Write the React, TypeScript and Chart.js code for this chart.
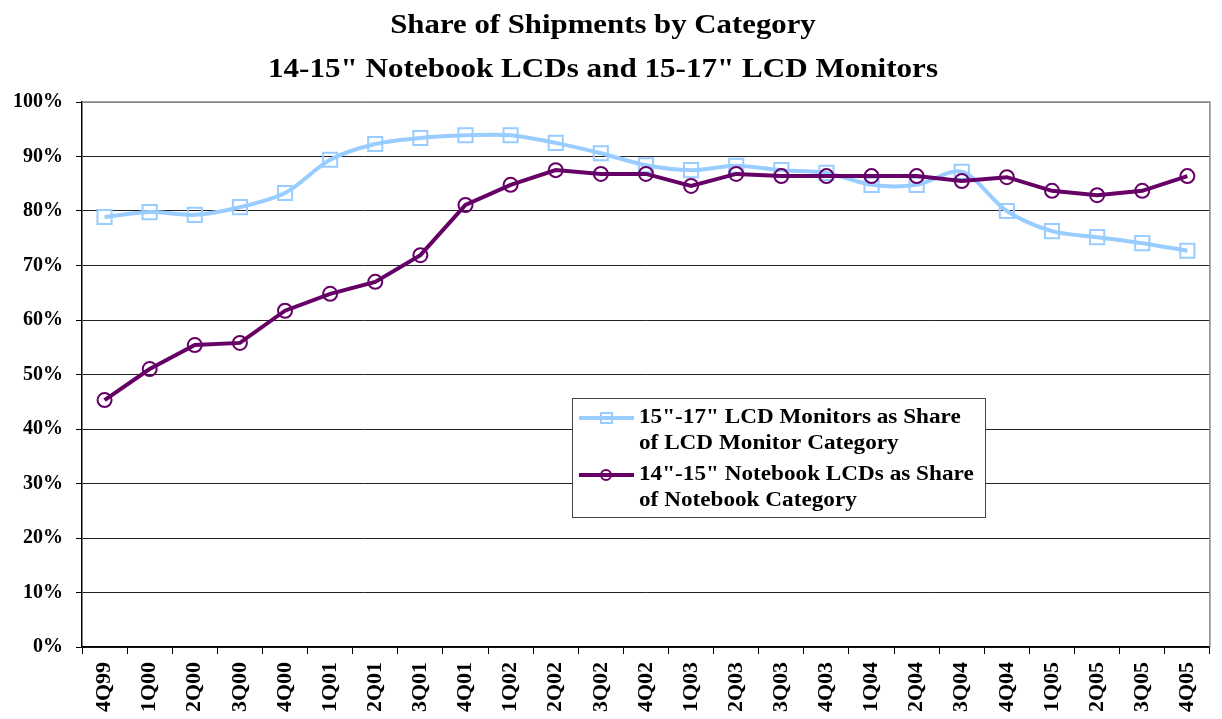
import React, { useEffect, useRef } from "react";
import { Chart, registerables } from "chart.js";

Chart.register(...registerables);

const quarters = [
  "4Q99", "1Q00", "2Q00", "3Q00", "4Q00", "1Q01", "2Q01", "3Q01", "4Q01",
  "1Q02", "2Q02", "3Q02", "4Q02", "1Q03", "2Q03", "3Q03", "4Q03",
  "1Q04", "2Q04", "3Q04", "4Q04", "1Q05", "2Q05", "3Q05", "4Q05",
];

const monitorShare = [
  78.9, 79.8, 79.3, 80.7, 83.3, 89.4, 92.3, 93.4, 93.9,
  93.9, 92.5, 90.6, 88.4, 87.5, 88.3, 87.5, 87.0,
  84.8, 84.8, 87.2, 80.0, 76.3, 75.2, 74.1, 72.7,
];

const notebookShare = [
  45.3, 51.0, 55.4, 55.8, 61.7, 64.8, 67.0, 71.9, 81.1,
  84.8, 87.5, 86.8, 86.8, 84.6, 86.8, 86.4, 86.4,
  86.4, 86.4, 85.5, 86.2, 83.7, 82.9, 83.7, 86.4,
];

const titleLines = ["Share of Shipments by Category", "14-15\" Notebook LCDs and 15-17\" LCD Monitors"];
const legendLabels = [
  ["15\"-17\" LCD Monitors as Share", "of LCD Monitor Category"],
  ["14\"-15\" Notebook LCDs as Share", "of Notebook Category"],
];

const SERIF = "'Liberation Serif', 'Times New Roman', serif";
const BLUE = "#99CCFF";
const PURPLE = "#660066";

function stretchedText(ctx: any, text: string, x: number, y: number, sx: number, align: string) {
  ctx.save();
  ctx.translate(x, y);
  ctx.scale(sx, 1);
  ctx.textAlign = align;
  ctx.fillText(text, 0, 0);
  ctx.restore();
}

export default function App() {
  const ref = useRef<HTMLCanvasElement | null>(null);

  useEffect(() => {
    if (!ref.current) return;

    const overlay = {
      id: "overlay",
      afterDraw(chart: any) {
        const ctx = chart.ctx;
        const area = chart.chartArea;
        ctx.save();
        // right border and top border
        ctx.strokeStyle = "#888888";
        ctx.lineWidth = 1.5;
        ctx.beginPath();
        ctx.moveTo(area.left, area.top);
        ctx.lineTo(area.right, area.top);
        ctx.lineTo(area.right, area.bottom);
        ctx.stroke();

        // title
        ctx.fillStyle = "#000";
        ctx.textBaseline = "alphabetic";
        ctx.font = `bold 28px ${SERIF}`;
        stretchedText(ctx, titleLines[0], 603, 33, 1.1, "center");
        stretchedText(ctx, titleLines[1], 603, 77, 1.11, "center");

        // legend
        const lx = 572, ly = 398, lw = 413, lh = 119;
        ctx.fillStyle = "#fff";
        ctx.fillRect(lx, ly, lw, lh);
        ctx.strokeStyle = "#444";
        ctx.lineWidth = 1;
        ctx.strokeRect(lx + 0.5, ly + 0.5, lw, lh);
        const items = [
          { color: BLUE, style: "rect", lines: legendLabels[0], y: 418 },
          { color: PURPLE, style: "circle", lines: legendLabels[1], y: 475 },
        ];
        ctx.font = `bold 20px ${SERIF}`;
        ctx.textBaseline = "middle";
        for (const it of items) {
          ctx.strokeStyle = it.color;
          ctx.lineWidth = 4;
          ctx.beginPath();
          ctx.moveTo(579, it.y);
          ctx.lineTo(634, it.y);
          ctx.stroke();
          ctx.lineWidth = 2;
          if (it.style === "rect") {
            ctx.strokeRect(601, it.y - 5, 11, 10);
          } else {
            ctx.beginPath();
            ctx.arc(606, it.y, 5, 0, Math.PI * 2);
            ctx.stroke();
          }
          ctx.fillStyle = "#000";
          stretchedText(ctx, it.lines[0], 639, it.y, 1.16, "left");
          stretchedText(ctx, it.lines[1], 639, it.y + 26, 1.16, "left");
        }
        ctx.restore();
      },
    };

    const chart = new Chart(ref.current, {
      type: "line",
      data: {
        labels: quarters,
        datasets: [
          {
            label: legendLabels[0].join(" "),
            data: monitorShare,
            borderColor: BLUE,
            borderWidth: 4,
            tension: 0.3,
            pointStyle: "rect",
            pointRadius: 10,
            pointBorderWidth: 2,
            pointBorderColor: BLUE,
            pointBackgroundColor: "rgba(255,255,255,0)",
            order: 1,
          },
          {
            label: legendLabels[1].join(" "),
            data: notebookShare,
            borderColor: PURPLE,
            borderWidth: 4,
            tension: 0,
            pointStyle: "circle",
            pointRadius: 7,
            pointBorderWidth: 2,
            pointBorderColor: PURPLE,
            pointBackgroundColor: "rgba(255,255,255,0)",
            order: 0,
          },
        ],
      },
      options: {
        responsive: false,
        animation: false,
        devicePixelRatio: 1,
        layout: { padding: { top: 102, right: 9, left: 0, bottom: 0 } },
        plugins: {
          legend: { display: false },
          title: { display: false },
          tooltip: { enabled: false },
        },
        scales: {
          x: {
            offset: true,
            grid: {
              offset: true,
              drawOnChartArea: false,
              drawTicks: true,
              tickLength: 7,
              color: "#000",
            },
            border: { color: "#000", width: 1.5 },
            ticks: {
              minRotation: 90,
              maxRotation: 90,
              autoSkip: false,
              padding: 8,
              color: "#000",
              font: { family: SERIF, size: 22, weight: "bold" },
            },
            afterFit(scale: any) {
              scale.height = 72;
            },
          },
          y: {
            min: 0,
            max: 100,
            ticks: {
              stepSize: 10,
              padding: 13,
              color: "#000",
              callback: (v: any) => `${v}%`,
              font: { family: SERIF, size: 20, weight: "bold" },
            },
            grid: {
              color: (c: any) => (c.tick && c.tick.value === 100 ? "#888888" : "#222222"),
              lineWidth: 1,
              tickLength: 6,
              tickColor: "#000",
            },
            border: { color: "#000", width: 1.5 },
            afterFit(scale: any) {
              scale.width = 82;
            },
          },
        },
      },
      plugins: [overlay],
    });

    return () => chart.destroy();
  }, []);

  return (
    <div style={{ position: "absolute", left: 0, top: 0, width: 1222, height: 719 }}>
      <canvas ref={ref} width={1222} height={719} style={{ display: "block" }} />
    </div>
  );
}
